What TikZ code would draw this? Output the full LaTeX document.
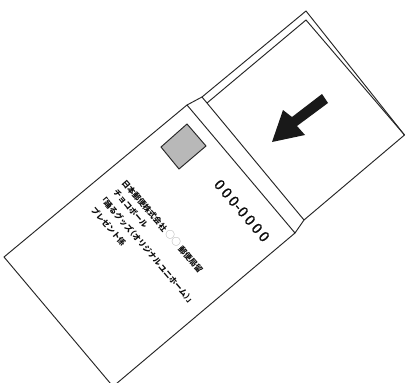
\documentclass[tikz,border=0pt]{standalone}
\usepackage{fontspec}
\newfontfamily\jpfont{Noto Sans CJK JP}
\newfontfamily\bangofont[FakeBold=1.2]{Noto Sans CJK JP}
\newcommand{\FuutouBase}{%
\draw[edgeline](4,257)--(187,105)--(295,233)--(113,386.5)--cycle;
\draw[edgeline](187,105)--(202,97)--(304,220)--(295,233);
\draw[edgeline](202,97)--(306,11)--(404.5,135)--(304,220);
\draw[edgeline](207,103)--(306,20)--(404.5,135);
\draw[edgeline,fill=black!28](187,124)--(206,146)--(179,169)--(161,147)--cycle;
\fill[black!90](272,142)--(283,110)--(292,117)--(322,94)--(328,103)--(297,126)--(305,135)--cycle;}
\newcommand{\maru}{\hspace{2pt}{\color{black!40}\fontseries{m}\selectfont\fontsize{9.5}{10}\selectfont ○○}\hspace{2pt}}
\tikzset{
edgeline/.style={line width=.95pt,black!85,line join=miter},
atena/.style={font=\jpfont\bfseries\fontsize{8}{9}\selectfont,black!95,rotate=-49.5,anchor=west,inner sep=0pt}}
\begin{document}
\begin{tikzpicture}[x=1pt,y=-1pt]
\useasboundingbox(0,0)rectangle(405,383);
\FuutouBase
\node[atena,font=\bangofont\fontsize{14.5}{15}\selectfont,anchor=west](yubin)at(217,181.5){0\hspace{2.8pt}0\hspace{2.8pt}0\hspace{.5pt}-\hspace{.5pt}0\hspace{2.8pt}0\hspace{2.8pt}0\hspace{2.8pt}0};
\node[atena](jusho)at(124,181){日本郵便株式会社\maru 郵便局留};
\node[atena](shohin)at(115,190){チョコボール};
\node[atena](guzzu)at(103,198){\hspace*{-4pt}「踊るグッズ\hspace{-4pt}（オリジナルユニホーム）\hspace{-4pt}」};
\node[atena](kakari)at(93,208){プレゼント係};
\end{tikzpicture}
\end{document}
